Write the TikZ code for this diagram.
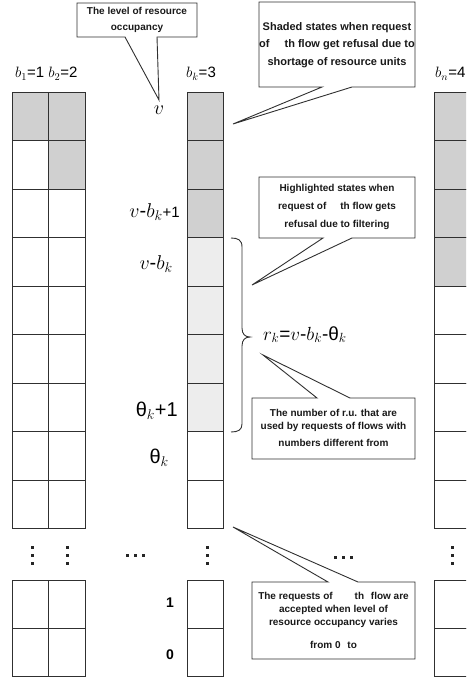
\RequirePackage{fix-cm}
\documentclass[tikz,border=0pt]{standalone}
\usepackage{fontspec}
\setmainfont{Liberation Sans}
\usetikzlibrary{calc}
\definecolor{shadeD}{HTML}{D0D0D0}
\definecolor{shadeL}{HTML}{EDEDED}
\definecolor{linec}{HTML}{303030}
\begin{document}
\begin{tikzpicture}[x=1pt,y=-1pt,
  cellbox/.style={draw=linec, line width=0.9pt},
  dark/.style={fill=shadeD},
  light/.style={fill=shadeL},
  callout/.style={draw=linec, fill=white, line width=0.9pt, line join=miter},
  boxtext/.style={font=\bfseries\fontsize{10}{13}\selectfont, align=center, inner sep=0pt, text=black!90},
  lab/.style={inner sep=0pt, font=\fontsize{15}{18}\selectfont},
  biglab/.style={inner sep=0pt, font=\fontsize{20}{24}\selectfont},
  numlab/.style={inner sep=0pt, font=\bfseries\fontsize{14}{16}\selectfont},
  dotmark/.style={fill=black!85, draw=none},
  bracestyle/.style={draw=linec, line width=0.9pt}
]
\useasboundingbox (0,0) rectangle (466,682);
\clip (0,0) rectangle (466,682);

% ---- fills ----
\fill[dark] (12,92) rectangle (48.5,140.5);
\fill[dark] (48.5,92) rectangle (85,189);
\fill[dark] (187,92) rectangle (223,237.5);
\fill[light] (187,237.5) rectangle (223,431.5);
\fill[dark] (434,92) rectangle (480,286);

% ---- main grid ----
\foreach \r in {0,...,8} {
  \draw[cellbox] (12,{92+48.5*\r}) rectangle (48.5,{140.5+48.5*\r});
  \draw[cellbox] (48.5,{92+48.5*\r}) rectangle (85,{140.5+48.5*\r});
  \draw[cellbox] (187,{92+48.5*\r}) rectangle (223,{140.5+48.5*\r});
  \draw[cellbox] (434,{92+48.5*\r}) rectangle (480,{140.5+48.5*\r});
}
% ---- bottom blocks ----
\foreach \r in {0,1} {
  \draw[cellbox] (12,{580+48*\r}) rectangle (48.5,{628+48*\r});
  \draw[cellbox] (48.5,{580+48*\r}) rectangle (85,{628+48*\r});
  \draw[cellbox] (187,{580+48*\r}) rectangle (223,{628+48*\r});
  \draw[cellbox] (434,{580+48*\r}) rectangle (480,{628+48*\r});
}

% ---- dots ----
\foreach \x in {32,67,207,452} {
  \foreach \y in {547,555,563} { \fill[dotmark] (\x-1.5,\y-1.5) rectangle (\x+1.5,\y+1.5); }
}
\foreach \x in {127,135,143} { \fill[dotmark] (\x-1.5,553.5) rectangle (\x+1.5,556.5); }
\foreach \x in {335,343,351} { \fill[dotmark] (\x-1.5,555.5) rectangle (\x+1.5,558.5); }

% ---- brace ----
\draw[bracestyle] (231,238) .. controls (238,238) and (242,240) .. (242,247)
  -- (242,328) .. controls (242,334) and (245,337) .. (250,337)
  .. controls (245,337) and (242,340) .. (242,346)
  -- (242,424) .. controls (242,430) and (238,432) .. (231,432);

% ---- callout 1 ----
\coordinate (t1) at (159,100);
\draw[callout] (77,3) -- (197,3) -- (197,37) -- (157,37) -- (t1) -- (125,37) -- (77,37) -- cycle;
\node[boxtext, font=\bfseries\fontsize{10}{16}\selectfont] (c1) at (137,20) {The level of resource\\occupancy};

% ---- callout 2 ----
\coordinate (t2) at (233,124);
\draw[callout] (259,2) -- (415,2) -- (415,87) -- (352,87) -- (t2) -- (322,87) -- (259,87) -- cycle;
\node[boxtext, font=\bfseries\fontsize{11}{17.5}\selectfont] (c2) at (337,45) {Shaded states when request\\of\hspace{15pt}th flow get refusal due to\\shortage of resource units};

% ---- callout 3 ----
\coordinate (t3) at (252,285);
\draw[callout] (259,177) -- (415,177) -- (415,238) -- (352,238) -- (t3) -- (323,238) -- (259,238) -- cycle;
\node[boxtext, font=\bfseries\fontsize{10}{18}\selectfont] (c3) at (337,207) {Highlighted states when\\request of\hspace{14pt}th flow gets\\refusal due to filtering};

% ---- callout 4 ----
\coordinate (t4) at (263,355);
\draw[callout] (252,398) -- (317,398) -- (t4) -- (350,398) -- (415,398) -- (415,459) -- (252,459) -- cycle;
\node[boxtext, font=\bfseries\fontsize{10}{13}\selectfont] (c4) at (333.5,428) {The number of r.u. that are\\used by requests of flows with\\[4pt]numbers different from\hspace{14pt}};

% ---- callout 5 ----
\coordinate (t5) at (233,527);
\draw[callout] (252,582) -- (328,582) -- (t5) -- (358,582) -- (415,582) -- (415,659) -- (252,659) -- cycle;
\node[boxtext, font=\bfseries\fontsize{10}{13}\selectfont] (c5) at (333.5,620) {The requests of\hspace{22pt}th\hspace{4pt} flow are\\accepted when level of\\resource occupancy varies\\[10pt]from 0\hspace{4pt} to\hspace{14pt}};

% ---- column labels ----
\node[lab, anchor=base west] (lb1) at (15,78) {$b_1$=1 $b_2$=2};
\node[lab, anchor=base west] (lbk) at (186,78) {$b_k$=3};
\node[lab, anchor=base west] (lbn) at (435,78) {$b_n$=4};

% ---- level labels ----
\node[biglab, anchor=base] (lv) at (159,115) {$v$};
\node[biglab, anchor=base east] (lvb1) at (180,217) {$v$-$b_k${\fontsize{15}{18}\selectfont+1}};
\node[biglab, anchor=base east] (lvb) at (173,269) {$v$-$b_k$};
\node[biglab, anchor=base east] (lth1) at (178,416) {θ$_k$+1};
\node[biglab, anchor=base east] (lth) at (169,463) {θ$_k$};
\node[numlab] (l1) at (170,603) {1};
\node[numlab] (l0) at (170,655) {0};
\node[biglab, font=\fontsize{19}{23}\selectfont, anchor=base west] (lr) at (263,340) {$r_k$=$v$-$b_k$-θ$_k$};
\end{tikzpicture}
\end{document}
